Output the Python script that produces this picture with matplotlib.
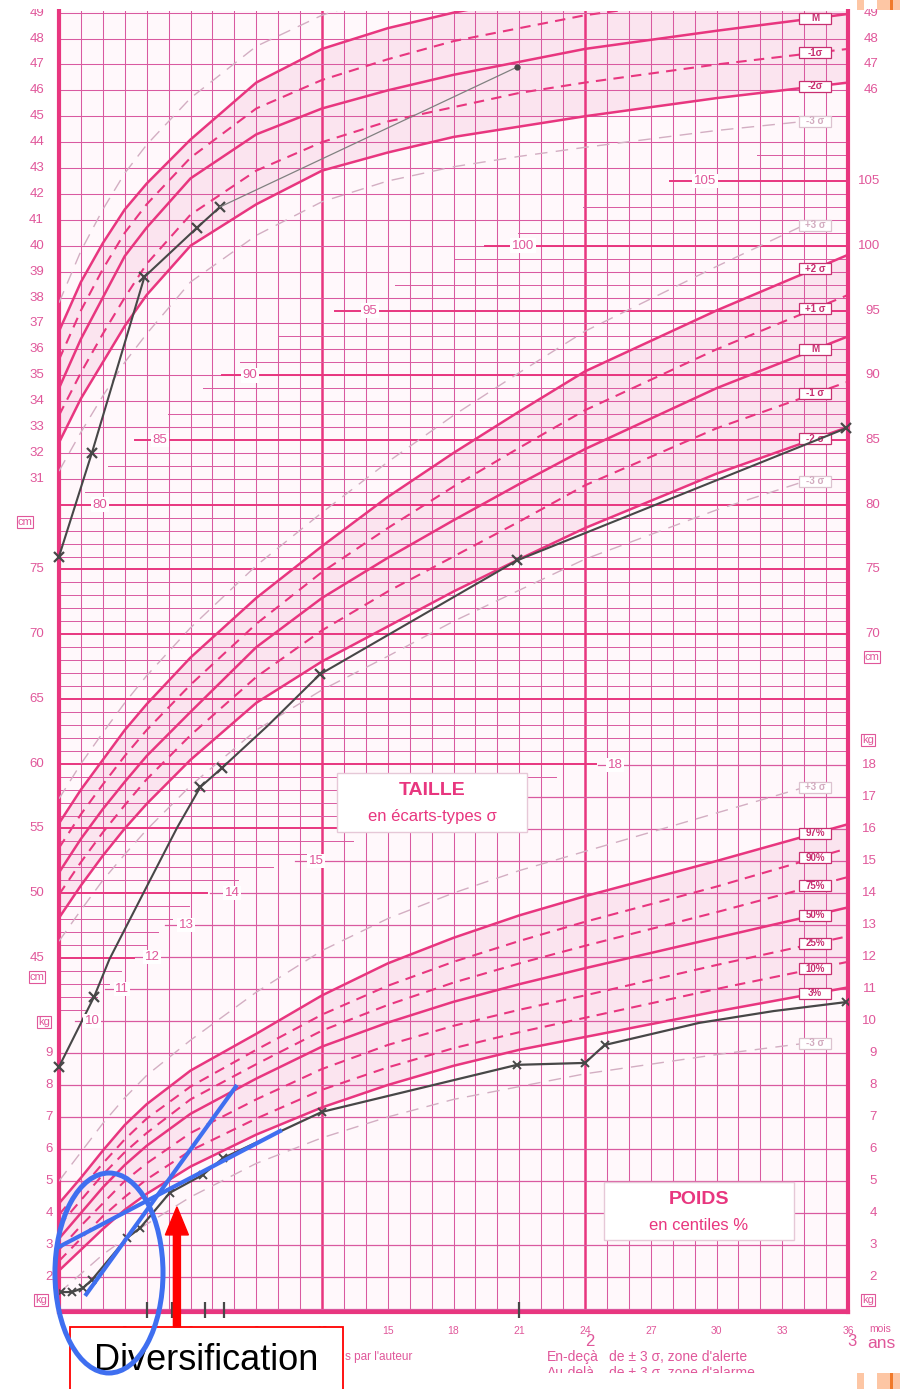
import numpy as np
import matplotlib
matplotlib.use("Agg")
import matplotlib.pyplot as plt
from matplotlib.patches import Rectangle, Ellipse, FancyArrow

plt.rcParams['font.family'] = ['Liberation Sans', 'DejaVu Sans']

# ------------------------------------------------------------------ data
mois = [0, 1, 2, 3, 4, 6, 9, 12, 15, 18, 21, 24, 30, 36]
mois_3s = [0, 1, 2, 3, 4, 6, 9, 12, 15, 18, 21, 24, 30, 34]

# périmètre crânien (cm)
pc_plus3 = [37.8, 39.8, 41.4, 42.8, 43.9, 45.7, 47.7, 48.9, 49.7, 50.3, 50.8, 51.2, 51.9, 52.2]
pc_plus2 = [36.7, 38.6, 40.1, 41.4, 42.4, 44.1, 46.3, 47.6, 48.4, 49.0, 49.5, 49.9, 50.5, 51.0]
pc_plus1 = [35.6, 37.5, 39.1, 40.5, 41.6, 43.4, 45.3, 46.4, 47.2, 47.9, 48.4, 48.9, 49.6, 50.1]
pc_moy = [34.5, 36.4, 38.0, 39.6, 40.7, 42.6, 44.3, 45.3, 46.0, 46.6, 47.1, 47.6, 48.3, 48.95]
pc_moins1 = [33.45, 35.1, 36.6, 38.0, 39.3, 41.2, 42.9, 44.0, 44.8, 45.35, 45.9, 46.3, 47.0, 47.6]
pc_moins2 = [32.4, 34.1, 35.5, 36.9, 38.1, 40.0, 41.6, 42.9, 43.6, 44.2, 44.6, 45.0, 45.7, 46.3]
pc_moins3 = [31.3, 32.8, 34.2, 35.5, 36.6, 38.6, 40.4, 41.7, 42.5, 43.05, 43.45, 43.8, 44.45, 44.8]

# taille (cm)
t_plus3 = [57.3, 60.0, 62.4, 64.7, 66.8, 70.5, 75.3, 79.4, 83.3, 86.9, 90.2, 93.4, 98.4, 101.6]
t_plus2 = [55.4, 58.0, 60.3, 62.6, 64.6, 68.2, 72.8, 76.8, 80.6, 84.0, 87.2, 90.3, 95.0, 99.3]
t_plus1 = [53.5, 56.1, 58.4, 60.6, 62.6, 66.1, 70.8, 74.8, 78.2, 81.4, 84.4, 87.3, 92.0, 96.2]
t_moy = [51.6, 54.2, 56.5, 58.6, 60.6, 64.0, 69.0, 72.8, 75.9, 78.8, 81.6, 84.3, 89.0, 93.0]
t_moins1 = [49.9, 52.4, 54.7, 56.8, 58.8, 62.2, 66.7, 70.3, 73.3, 76.0, 78.7, 81.5, 85.9, 89.5]
t_moins2 = [48.1, 50.6, 52.9, 55.0, 56.9, 60.3, 64.7, 67.9, 70.6, 73.3, 75.8, 78.2, 82.4, 86.0]
t_moins3 = [46.3, 48.7, 51.0, 53.0, 54.9, 58.3, 62.6, 65.7, 68.3, 71.0, 73.4, 75.8, 79.6, 81.8]

# poids (kg)
p_97 = [4.3, 5.1, 5.95, 6.75, 7.4, 8.45, 9.6, 10.8, 11.8, 12.6, 13.3, 13.9, 15.0, 16.15]
p_90 = [3.95, 4.75, 5.55, 6.3, 6.95, 7.95, 9.1, 10.2, 11.1, 11.85, 12.5, 13.1, 14.2, 15.4]
p_75 = [3.6, 4.4, 5.2, 5.9, 6.5, 7.55, 8.65, 9.7, 10.5, 11.2, 11.8, 12.35, 13.4, 14.5]
p_50 = [3.2, 4.0, 4.8, 5.5, 6.1, 7.1, 8.2, 9.2, 9.95, 10.6, 11.15, 11.65, 12.6, 13.55]
p_25 = [2.85, 3.6, 4.3, 5.0, 5.55, 6.5, 7.55, 8.5, 9.25, 9.85, 10.35, 10.8, 11.75, 12.65]
p_10 = [2.5, 3.2, 3.9, 4.5, 5.05, 5.95, 6.95, 7.85, 8.55, 9.15, 9.65, 10.1, 11.0, 11.85]
p_03 = [2.2, 2.85, 3.5, 4.1, 4.6, 5.45, 6.45, 7.3, 8.0, 8.6, 9.1, 9.5, 10.3, 11.05]
p_plus3 = [5.0, 5.9, 6.8, 7.6, 8.3, 9.4, 10.9, 12.2, 13.2, 14.0, 14.7, 15.3, 16.5, 17.3]
p_moins3 = [1.5, 2.1, 2.7, 3.2, 3.65, 4.5, 5.55, 6.35, 7.0, 7.55, 7.95, 8.35, 8.95, 9.3]

# mesures de l'enfant
enf_pc_mois = [0, 1.5, 3.9, 6.3, 7.35, 20.9]
enf_pc = [28.0, 32.0, 38.8, 40.7, 41.5, 46.9]

enf_t_mois = [0, 1.6, 2.3, 4.15, 5.4, 6.45, 7.45, 9.5, 11.9, 20.9, 35.9]
enf_t = [36.6, 42.0, 44.9, 51.0, 55.1, 58.2, 59.7, 62.9, 66.9, 75.7, 85.9]
enf_t_mesures = [0, 1, 5, 6, 8, 9, 10]

enf_p_mois = [0.1, 0.6, 1.1, 1.5, 3.1, 3.7, 5.05, 6.55, 7.5, 12.0, 20.9, 24.0, 24.9, 29.2, 32.6, 35.9]
enf_p = [1.53, 1.53, 1.66, 1.91, 3.22, 3.53, 4.63, 5.19, 5.72, 7.16, 8.63, 8.69, 9.25, 9.94, 10.31, 10.59]
enf_p_mesures = [0, 1, 2, 3, 4, 5, 6, 7, 8, 9, 10, 11, 12, 15]

reperes_mois = [4.0, 5.15, 6.65, 7.55, 21.0]

axe_mois = [3, 6, 9, 12, 15, 18, 21, 24, 27, 30, 33, 36]
g_pc = list(range(31, 50))
d_pc = [46, 47, 48, 49]
g_t = [45, 50, 55, 60, 65, 70, 75]
d_t = [70, 75, 80, 85, 90, 95, 100, 105]
g_p = [2, 3, 4, 5, 6, 7, 8, 9]
d_p = list(range(2, 19))

# annotations (mois, kg)
trait1 = ([-0.09, 10.17], [2.91, 6.59])
trait2 = ([1.19, 8.12], [1.41, 8.0])
ellipse_c = (2.28, 2.125)
ellipse_wh = (4.93, 6.25)
fleche = (5.38, 0.44, 4.19)

# ------------------------------------------------------------------ layout
W, H = 900, 1389
AXL, AXR, AXT, AXB = 59, 848, 11, 1312

def fx(px):
    return px / W

def fy(py):
    return 1 - py / H

def mx(px):
    return (px - AXL) * 36.0 / (AXR - AXL)

T_CAL = (75, 569.5, 12.95)
PC_CAL = (27.5, 569.5, 25.9)
P_CAL = (10, 1021, 32.0)

def ylim_from(cal):
    v0, py0, ppu = cal
    return (v0 - (AXB - py0) / ppu, v0 + (py0 - AXT) / ppu)

def val_at(cal, py):
    v0, py0, ppu = cal
    return v0 + (py0 - py) / ppu

def row_of(cal, v):
    v0, py0, ppu = cal
    return py0 - (v - v0) * ppu

PINK = '#e8367f'
GRID = '#d95aa0'
TXT = '#e0579a'
GREY = '#d3aec2'
FILL = '#fbe4ef'
DARK = '#474747'
LAB = '#c82f70'

fig = plt.figure(figsize=(W / 100, H / 100), dpi=100)
fig.patch.set_facecolor('white')
rect = [fx(AXL), fy(AXB), (AXR - AXL) / W, (AXB - AXT) / H]
ax_t = fig.add_axes(rect)
ax_pc = fig.add_axes(rect, sharex=ax_t)
ax_p = fig.add_axes(rect, sharex=ax_t)

def set_lims():
    ax_t.set_xlim(0, 36)
    ax_t.set_ylim(*ylim_from(T_CAL))
    ax_pc.set_ylim(*ylim_from(PC_CAL))
    ax_p.set_ylim(*ylim_from(P_CAL))

set_lims()
for a in (ax_pc, ax_p):
    a.set_axis_off()
    a.patch.set_visible(False)

ax_t.set_facecolor('#fff8fb')
ax_t.set_yticks([])
for s in ('left', 'right', 'bottom'):
    ax_t.spines[s].set_color(PINK)
    ax_t.spines[s].set_linewidth(3.0)
ax_t.spines['top'].set_visible(False)
ax_t.set_xticks(axe_mois)
ax_t.set_xticklabels([str(m) for m in axe_mois])
ax_t.tick_params(axis='x', length=0, pad=10, labelsize=7.5, labelcolor=TXT)

# ---- grid
for m in range(1, 36):
    bold = m % 12 == 0
    ax_t.axvline(m, color=PINK if bold else GRID, lw=1.8 if bold else 0.75, zorder=1)

for c in range(31, 50):
    ax_t.plot([0, 36], [c, c], transform=ax_pc.transData, color=GRID, lw=0.75, zorder=1)

hb_h = [80, 81, 83, 85, 87, 89, 91, 93, 95, 97, 99, 100, 101, 103, 105, 107, 109, 111]
hb_px = [59, 85, 108, 135, 168, 203, 240, 278, 335, 395, 455, 485, 518, 583, 670, 757, 848, 900]
low_py = [763, 795, 827, 859, 891, 924, 957, 988, 1021]
low_px = [598, 500, 400, 295, 210, 165, 135, 105, 75]

for h in range(41, 118):
    py = row_of(T_CAL, h)
    major = h % 5 == 0
    if h >= 82 and h % 2 == 0 and not major:
        continue
    x0 = mx(np.interp(h, hb_h, hb_px))
    x1 = 36 if py <= 763 else mx(np.interp(py, low_py, low_px))
    if x1 > x0:
        ax_t.plot([x0, x1], [h, h], color=PINK if major else GRID,
                  lw=1.4 if major else 0.7, zorder=1.2 if major else 1)

wb_w = [9, 10, 11, 12, 13, 14, 15, 16, 17, 18]
wb_px = [59, 75, 105, 135, 165, 210, 295, 400, 500, 598]
for w in range(1, 19):
    x0 = mx(np.interp(w, wb_w, wb_px))
    ax_t.plot([x0, 36], [w, w], transform=ax_p.transData, color=GRID, lw=0.9, zorder=1)

# ---- fills
ax_t.fill_between(mois, t_moins2, t_plus2, color=FILL, lw=0, zorder=0.5)
ax_t.fill_between(mois, pc_moins2, pc_plus2, color=FILL, lw=0, zorder=0.5,
                  transform=ax_pc.transData)
ax_t.fill_between(mois, p_03, p_97, color=FILL, lw=0, zorder=0.5,
                  transform=ax_p.transData)

# ---- reference curves
def courbe(ax, x, y, kind):
    if kind == 's':
        ax.plot(x, y, color=PINK, lw=1.8, zorder=3)
    elif kind == 'd':
        ax.plot(x, y, color=PINK, lw=1.5, ls=(0, (5, 3.5)), zorder=3)
    else:
        ax.plot(x, y, color=GREY, lw=1.0, ls=(0, (9, 6)), zorder=3)

for ax, series in (
    (ax_pc, [(mois_3s, pc_plus3, 'g'), (mois, pc_plus2, 's'), (mois, pc_plus1, 'd'),
             (mois, pc_moy, 's'), (mois, pc_moins1, 'd'), (mois, pc_moins2, 's'),
             (mois_3s, pc_moins3, 'g')]),
    (ax_t, [(mois_3s, t_plus3, 'g'), (mois, t_plus2, 's'), (mois, t_plus1, 'd'),
            (mois, t_moy, 's'), (mois, t_moins1, 'd'), (mois, t_moins2, 's'),
            (mois_3s, t_moins3, 'g')]),
    (ax_p, [(mois_3s, p_plus3, 'g'), (mois, p_97, 's'), (mois, p_90, 'd'),
            (mois, p_75, 'd'), (mois, p_50, 's'), (mois, p_25, 'd'),
            (mois, p_10, 'd'), (mois, p_03, 's'), (mois_3s, p_moins3, 'g')])):
    for x, y, k in series:
        courbe(ax, x, y, k)

# ---- curve labels
XL = 34.5
def etiquette(ax, cal, txt, x, y, grey=False):
    yv = float(np.interp(XL, x, y))
    x0, x1 = mx(799), mx(831)
    hh = 11.0 / cal[2]
    ec = '#dcc2cf' if grey else LAB
    tc = '#d2abbf' if grey else LAB
    ax.add_patch(Rectangle((x0, yv - hh / 2), x1 - x0, hh, fc='white', ec=ec,
                           lw=0.9, zorder=4))
    ax.text((x0 + x1) / 2, yv, txt, ha='center', va='center', fontsize=7,
            fontweight='bold', color=tc, zorder=5)

etiquette(ax_pc, PC_CAL, 'M', mois, pc_moy)
etiquette(ax_pc, PC_CAL, '-1σ', mois, pc_moins1)
etiquette(ax_pc, PC_CAL, '-2σ', mois, pc_moins2)
etiquette(ax_pc, PC_CAL, '-3 σ', mois_3s, pc_moins3, grey=True)
etiquette(ax_t, T_CAL, '+3 σ', mois_3s, t_plus3, grey=True)
etiquette(ax_t, T_CAL, '+2 σ', mois, t_plus2)
etiquette(ax_t, T_CAL, '+1 σ', mois, t_plus1)
etiquette(ax_t, T_CAL, 'M', mois, t_moy)
etiquette(ax_t, T_CAL, '-1 σ', mois, t_moins1)
etiquette(ax_t, T_CAL, '-2 σ', mois, t_moins2)
etiquette(ax_t, T_CAL, '-3 σ', mois_3s, t_moins3, grey=True)
etiquette(ax_p, P_CAL, '+3 σ', mois_3s, p_plus3, grey=True)
for lab, ser in (('97%', p_97), ('90%', p_90), ('75%', p_75), ('50%', p_50),
                 ('25%', p_25), ('10%', p_10), ('3%', p_03)):
    etiquette(ax_p, P_CAL, lab, mois, ser)
etiquette(ax_p, P_CAL, '-3 σ', mois_3s, p_moins3, grey=True)

# ---- inner scale labels
def interne(ax, txt, px, v):
    ax.text(mx(px), v, txt, ha='center', va='center', fontsize=9.5, color=TXT,
            zorder=2, bbox=dict(fc='white', ec='none', pad=1.0))

for h, px in ((80, 100), (85, 160), (90, 250), (95, 370), (100, 523), (105, 705)):
    interne(ax_t, str(h), px, h)
for w, px in ((10, 92), (11, 122), (12, 152), (13, 186), (14, 232), (15, 316), (18, 615)):
    interne(ax_p, str(w), px, w)

# ---- margin labels
def marge(ax, v, px, ha):
    ax.text(mx(px), v, str(v), ha=ha, va='center', fontsize=9.5, color=TXT,
            clip_on=False)

for c in g_pc:
    marge(ax_pc, c, 44, 'right')
for c in d_pc:
    marge(ax_pc, c, 878, 'right')
for h in g_t:
    marge(ax_t, h, 44, 'right')
for h in d_t:
    marge(ax_t, h, 880, 'right')
for w in g_p:
    marge(ax_p, w, 53, 'right')
for w in d_p:
    marge(ax_p, w, 877, 'right')

def unite(txt, px, py):
    fig.text(fx(px), fy(py), txt, ha='center', va='center', fontsize=8, color=TXT,
             bbox=dict(fc='white', ec=TXT, lw=0.8, pad=0.6))

unite('cm', 25, 522)
unite('cm', 37, 977)
unite('kg', 44, 1022)
unite('kg', 41, 1300)
unite('cm', 872, 657)
unite('kg', 868, 740)
unite('kg', 868, 1300)

# ---- child's measurements
ax_pc.plot(enf_pc_mois[:5], enf_pc[:5], color=DARK, lw=1.5, marker='x', ms=7,
           mew=1.6, zorder=6, clip_on=False)
ax_pc.plot(enf_pc_mois[4:], enf_pc[4:], color='#808080', lw=0.9, zorder=6)
ax_pc.plot(enf_pc_mois[-1:], enf_pc[-1:], 'o', color=DARK, ms=3.5, zorder=6)

ax_t.plot(enf_t_mois, enf_t, color=DARK, lw=1.5, marker='x', ms=7, mew=1.6,
          markevery=enf_t_mesures, zorder=6, clip_on=False)
ax_p.plot(enf_p_mois, enf_p, color=DARK, lw=1.6, marker='x', ms=6, mew=1.4,
          markevery=enf_p_mesures, zorder=6)
ax_p.vlines(reperes_mois, val_at(P_CAL, 1318), val_at(P_CAL, 1302), color=DARK,
            lw=1.6, zorder=6, clip_on=False)

# ---- boxes TAILLE / POIDS
def cadre(x0, y0, x1, y1, t1, t2):
    fig.add_artist(Rectangle((fx(x0), fy(y1)), (x1 - x0) / W, (y1 - y0) / H,
                             transform=fig.transFigure, fc='white', ec='#e6c8d7',
                             lw=1.0, zorder=5))
    cx = (x0 + x1) / 2
    fig.text(fx(cx), fy(y0 + 18), t1, ha='center', va='center', fontsize=14,
             fontweight='bold', color=PINK, zorder=6)
    fig.text(fx(cx), fy(y0 + 43), t2, ha='center', va='center', fontsize=12,
             color=PINK, zorder=6)

cadre(337, 773, 527, 832, 'TAILLE', 'en écarts-types σ')
cadre(604, 1182, 794, 1240, 'POIDS', 'en centiles %')

# ---- bottom texts
fig.text(fx(880), fy(1329), 'mois', ha='center', va='center', fontsize=7.5, color=TXT)
fig.text(fx(590), fy(1342), '2', ha='center', va='center', fontsize=12, color=TXT)
fig.text(fx(852), fy(1342), '3', ha='center', va='center', fontsize=12, color=TXT)
fig.text(fx(867), fy(1343), 'ans', ha='left', va='center', fontsize=12.5, color=TXT)
fig.text(fx(345), fy(1357), "s par l'auteur", ha='left', va='center', fontsize=8.5, color=TXT)
fig.text(fx(547), fy(1357), 'En-deçà', ha='left', va='center', fontsize=10, color=TXT)
fig.text(fx(609), fy(1357), "de ± 3 σ, zone d'alerte", ha='left', va='center', fontsize=10, color=TXT)
fig.text(fx(547), fy(1373), 'Au-delà', ha='left', va='center', fontsize=10, color=TXT)
fig.text(fx(609), fy(1373), "de ± 3 σ, zone d'alarme", ha='left', va='center', fontsize=10, color=TXT)

def bande(x0, y0, x1, y1, color, z):
    fig.add_artist(Rectangle((fx(x0), fy(y1)), (x1 - x0) / W, (y1 - y0) / H,
                             transform=fig.transFigure, fc=color, ec='none', zorder=z))

bande(0, 0, 900, 9, 'white', 9)
bande(345, 1373, 856, 1389, 'white', 9)
for y0, y1 in ((0, 10), (1373, 1389)):
    bande(857, y0, 864, y1, '#fdc6a4', 13)
    bande(877, y0, 900, y1, '#fdc6a4', 13)
    bande(890, y0, 893, y1, '#f07a2a', 14)

# ---- annotation overlay
fig.add_artist(Rectangle((fx(70), fy(1395)), (343 - 70) / W, (1395 - 1327) / H,
                         transform=fig.transFigure, fc='white', ec='#ff0000',
                         lw=1.3, zorder=10))
fig.text(fx(206), fy(1361), 'Diversification', ha='center', va='center',
         fontsize=26, color='black', zorder=11)

BLUE = '#3f6ff0'
for tx, ty in (trait1, trait2):
    ln = matplotlib.lines.Line2D(tx, ty, color=BLUE, lw=3.0, transform=ax_p.transData,
                                 zorder=12, solid_capstyle='butt')
    fig.add_artist(ln)
fig.add_artist(Ellipse(ellipse_c, ellipse_wh[0], ellipse_wh[1], fc='none', ec=BLUE,
                       lw=3.6, transform=ax_p.transData, zorder=12))
fx0, fy0, fy1 = fleche
fig.add_artist(FancyArrow(fx0, fy0, 0, fy1 - fy0, width=0.32, head_width=1.05,
                          head_length=0.875, length_includes_head=True,
                          color='#ff0000', transform=ax_p.transData, zorder=12))

set_lims()
fig.savefig('out.png', dpi=100, facecolor='white')
